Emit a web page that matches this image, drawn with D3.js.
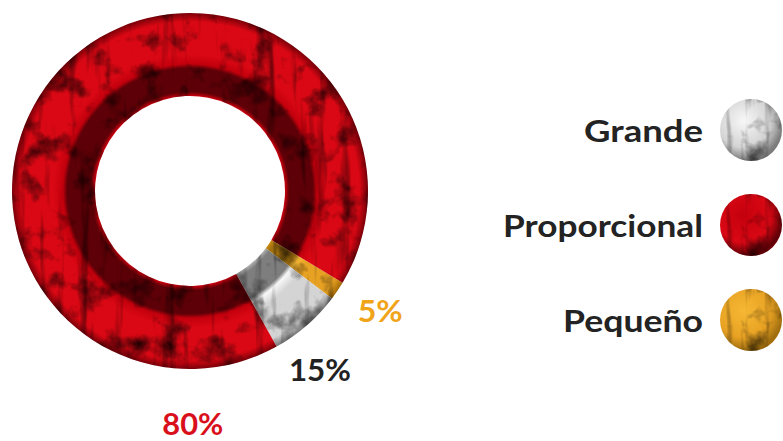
<!DOCTYPE html>
<html>
<head>
<meta charset="utf-8">
<script src="https://cdn.jsdelivr.net/npm/d3@7"></script>
<style>
	html, body {margin: 0; padding: 0; background: #fff;}
	svg {display: block;}
	text {font-family: "Lato", "Open Sans", sans-serif; font-weight: 700;}
</style>
</head>
<body>
<div id="chart"></div>
<script>
//Chart data
var categories = ["Pequeño", "Grande", "Proporcional"];
var pctLabels = ["5%", "15%", "80%"];
//share of the ring each slice takes in the picture (degrees / 360)
var sliceShare = [0.017, 0.066, 0.917];
var legendOrder = ["Grande", "Proporcional", "Pequeño"];

//Colours per category
var palette = {
	"Pequeño":      {rim: "#c98b12", dark: "#a27010", ridge: "#f6b834", light: "#e8a223", edge: "#a36a06", label: "#f0a419"},
	"Grande":       {rim: "#b0b0b0", dark: "#7e7e7e", ridge: "#f7f7f7", light: "#d4d4d4", edge: "#777777", label: "#222222"},
	"Proporcional": {rim: "#cc000e", dark: "#5e0007", ridge: "#c4000d", light: "#da0814", edge: "#7a0009", label: "#d9101b"}
};

var width = 783, height = 441;
var center = {x: 190, y: 191};
var rInner = 95, rOuter = 178;

var svg = d3.select("#chart").append("svg")
	.attr("width", width)
	.attr("height", height);

var defs = svg.append("defs");

//Grunge texture filter: dark blotches and faint vertical streaks over the fill
var filter = defs.append("filter")
	.attr("id", "grunge")
	.attr("x", "-5%").attr("y", "-5%")
	.attr("width", "110%").attr("height", "110%")
	.attr("color-interpolation-filters", "sRGB");
filter.append("feTurbulence")
	.attr("type", "fractalNoise").attr("baseFrequency", "0.035")
	.attr("numOctaves", 4).attr("seed", 7).attr("result", "n1");
filter.append("feColorMatrix")
	.attr("in", "n1").attr("type", "matrix")
	.attr("values", "0 0 0 0 0  0 0 0 0 0  0 0 0 0 0  -2.2 0 0 0 1.06")
	.attr("result", "a1");
filter.append("feTurbulence")
	.attr("type", "fractalNoise").attr("baseFrequency", "0.08 0.01")
	.attr("numOctaves", 3).attr("seed", 3).attr("result", "n2");
filter.append("feColorMatrix")
	.attr("in", "n2").attr("type", "matrix")
	.attr("values", "0 0 0 0 0  0 0 0 0 0  0 0 0 0 0  -1.6 0 0 0 0.70")
	.attr("result", "a2");
var fm = filter.append("feMerge").attr("result", "spots");
fm.append("feMergeNode").attr("in", "a1");
fm.append("feMergeNode").attr("in", "a2");
filter.append("feComposite")
	.attr("in", "spots").attr("in2", "SourceAlpha")
	.attr("operator", "in").attr("result", "spotsIn");
var fm2 = filter.append("feMerge");
fm2.append("feMergeNode").attr("in", "SourceGraphic");
fm2.append("feMergeNode").attr("in", "spotsIn");

//Ring shading: dark inner band, bright outer band
function ringStops(c) {
	var a = rInner / rOuter;
	return [
		[a, c.rim], [a + 0.025, c.dark], [0.69, c.dark],
		[0.715, c.ridge], [0.77, c.light], [0.95, c.light], [1, c.edge]
	];
}

categories.forEach(function(cat, i) {
	//gradient lives in the ring group's local space, centred on its origin
	var g = defs.append("radialGradient")
		.attr("id", "ring" + i)
		.attr("gradientUnits", "userSpaceOnUse")
		.attr("cx", 0).attr("cy", 0).attr("r", rOuter);
	ringStops(palette[cat]).forEach(function(s) {
		g.append("stop").attr("offset", s[0]).attr("stop-color", s[1]);
	});
	//sphere gradient for the legend
	var c = palette[cat];
	var sg = defs.append("radialGradient")
		.attr("id", "ball" + i)
		.attr("cx", "38%").attr("cy", "35%").attr("r", "72%");
	sg.append("stop").attr("offset", 0).attr("stop-color", c.ridge);
	sg.append("stop").attr("offset", 0.6).attr("stop-color", c.light);
	sg.append("stop").attr("offset", 0.88).attr("stop-color", c.dark);
	sg.append("stop").attr("offset", 1).attr("stop-color", c.edge);
});

//Donut
var pie = d3.pie()
	.sort(null)
	.value(function(d) {return d;})
	.startAngle(121 * Math.PI / 180)
	.endAngle(121 * Math.PI / 180 + 2 * Math.PI);

var arc = d3.arc()
	.innerRadius(rInner)
	.outerRadius(rOuter);

var ring = svg.append("g")
	.attr("transform", "translate(" + center.x + "," + center.y + ")")
	.attr("filter", "url(#grunge)");

ring.selectAll("path")
	.data(pie(sliceShare))
	.enter().append("path")
	.attr("d", arc)
	.attr("fill", function(d, i) {return "url(#ring" + i + ")";});

//Percent labels, placed by polar offset from the ring center
var labelPos = [
	{angle: 122.3, r: 225},
	{angle: 144, r: 221},
	{angle: 179.3, r: 233}
];
var labelWidth = [45, 62, 61];

svg.append("g").selectAll("text")
	.data(pctLabels)
	.enter().append("text")
	.attr("x", function(d, i) {return center.x + labelPos[i].r * Math.sin(labelPos[i].angle * Math.PI / 180);})
	.attr("y", function(d, i) {return center.y - labelPos[i].r * Math.cos(labelPos[i].angle * Math.PI / 180) + 11;})
	.attr("text-anchor", "middle")
	.attr("font-size", 31)
	.attr("textLength", function(d, i) {return labelWidth[i];})
	.attr("lengthAdjust", "spacingAndGlyphs")
	.attr("fill", function(d, i) {return palette[categories[i]].label;})
	.text(function(d) {return d;});

//Legend
var legendY = d3.scalePoint()
	.domain(legendOrder)
	.range([130, 320]);
var legendWidth = {"Grande": 119, "Proporcional": 200, "Pequeño": 140};

var legend = svg.append("g").selectAll("g")
	.data(legendOrder)
	.enter().append("g")
	.attr("transform", function(d) {return "translate(0," + legendY(d) + ")";});

legend.append("text")
	.attr("x", 703)
	.attr("y", 12)
	.attr("text-anchor", "end")
	.attr("font-size", 31)
	.attr("fill", "#232323")
	.attr("textLength", function(d) {return legendWidth[d];})
	.attr("lengthAdjust", "spacingAndGlyphs")
	.text(function(d) {return d;});

legend.append("circle")
	.attr("cx", 751)
	.attr("cy", 0)
	.attr("r", 31)
	.attr("fill", function(d) {return "url(#ball" + categories.indexOf(d) + ")";})
	.attr("filter", "url(#grunge)");
</script>
</body>
</html>
